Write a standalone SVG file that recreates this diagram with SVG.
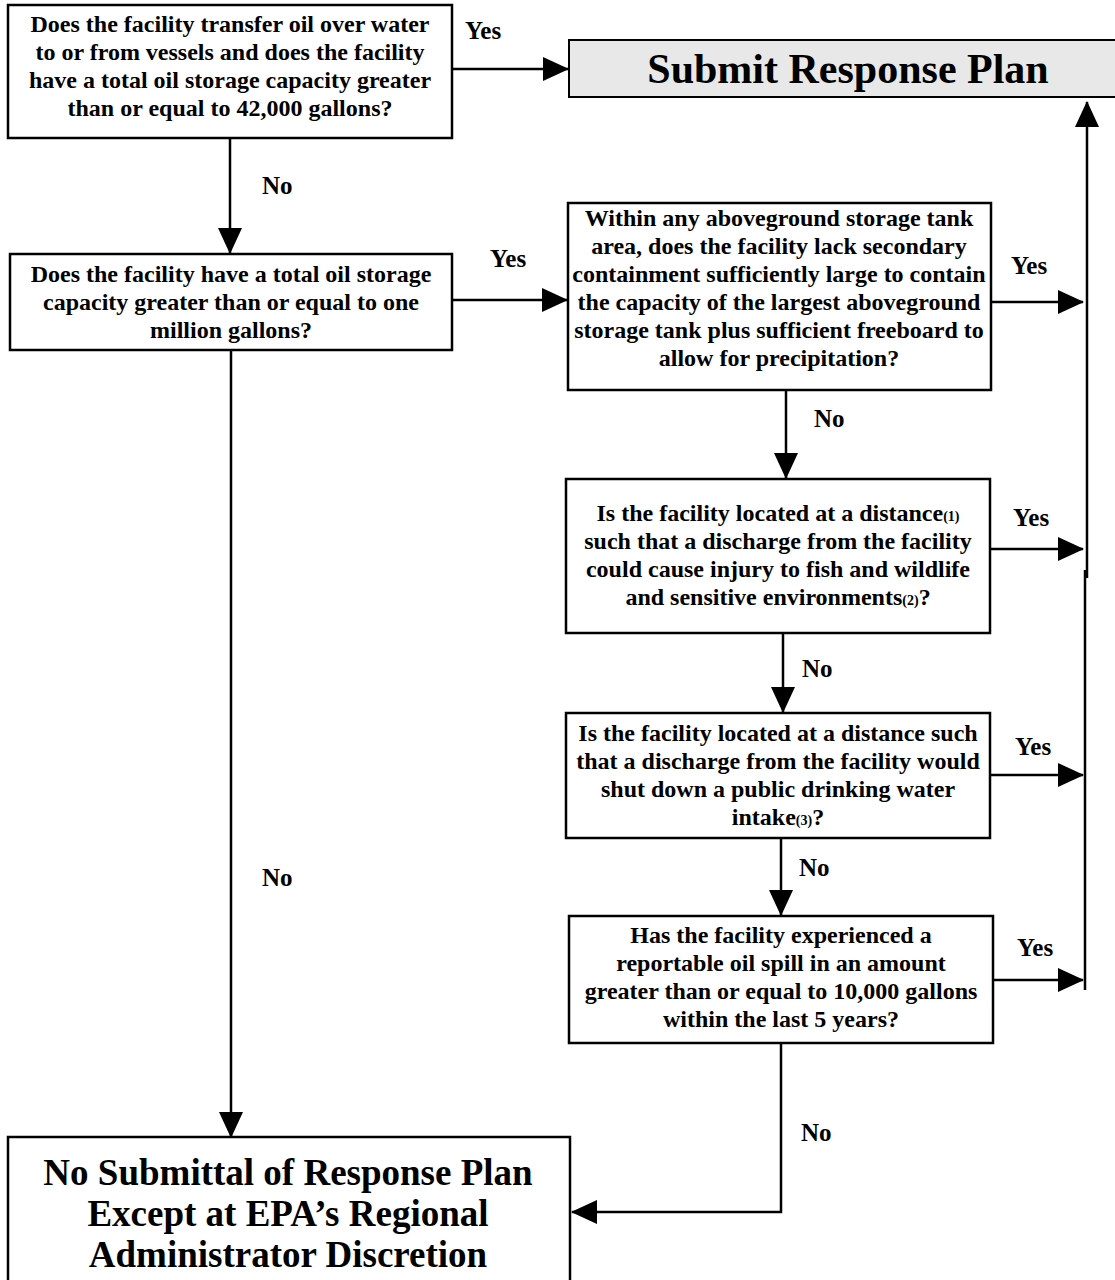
<svg xmlns="http://www.w3.org/2000/svg" width="1115" height="1280" viewBox="0 0 1115 1280">
<style>
.box{fill:#fff;stroke:#000;stroke-width:2.5}
.t{font-family:"Liberation Serif","Times New Roman",serif;font-weight:bold;font-size:24px;text-anchor:middle;fill:#000}
.lbl{font-family:"Liberation Serif","Times New Roman",serif;font-weight:bold;font-size:25px;fill:#000}
.big{font-family:"Liberation Serif","Times New Roman",serif;font-weight:bold;font-size:37px;text-anchor:middle;fill:#000}
.sm{font-size:14px}
.c{stroke:#000;stroke-width:2.5;fill:none}
</style>
<defs>
<marker id="ah" markerUnits="userSpaceOnUse" markerWidth="26" markerHeight="26" viewBox="0 0 26 26" refX="25" refY="13" orient="auto">
<path d="M0,1 L26,13 L0,25 Z" fill="#000"/>
</marker>
</defs>
<rect width="1115" height="1280" fill="#fff"/>

<g id="connectors">
<line class="c" x1="452" y1="69" x2="568" y2="69" marker-end="url(#ah)"/>
<line class="c" x1="230" y1="138" x2="230" y2="253" marker-end="url(#ah)"/>
<line class="c" x1="452" y1="300" x2="567" y2="300" marker-end="url(#ah)"/>
<line class="c" x1="231" y1="350" x2="231" y2="1137" marker-end="url(#ah)"/>
<line class="c" x1="991" y1="302" x2="1083" y2="302" marker-end="url(#ah)"/>
<line class="c" x1="786" y1="390" x2="786" y2="478" marker-end="url(#ah)"/>
<line class="c" x1="990" y1="549" x2="1083" y2="549" marker-end="url(#ah)"/>
<line class="c" x1="783" y1="633" x2="783" y2="712" marker-end="url(#ah)"/>
<line class="c" x1="990" y1="775" x2="1083" y2="775" marker-end="url(#ah)"/>
<line class="c" x1="781" y1="838" x2="781" y2="915" marker-end="url(#ah)"/>
<line class="c" x1="993" y1="980" x2="1083" y2="980" marker-end="url(#ah)"/>
<line class="c" x1="1085" y1="990" x2="1085" y2="570"/>
<line class="c" x1="1087" y1="578" x2="1087" y2="102" marker-end="url(#ah)"/>
<polyline class="c" points="781,1043 781,1212 572,1212" marker-end="url(#ah)"/>
<text class="lbl" x="465" y="39">Yes</text>
<text class="lbl" x="262" y="194">No</text>
<text class="lbl" x="490" y="267">Yes</text>
<text class="lbl" x="1011" y="274">Yes</text>
<text class="lbl" x="814" y="427">No</text>
<text class="lbl" x="1013" y="526">Yes</text>
<text class="lbl" x="802" y="677">No</text>
<text class="lbl" x="1015" y="755">Yes</text>
<text class="lbl" x="799" y="876">No</text>
<text class="lbl" x="1017" y="956">Yes</text>
<text class="lbl" x="262" y="886">No</text>
<text class="lbl" x="801" y="1141">No</text>
</g>

<g id="q1">
<rect class="box" x="8" y="5" width="444" height="133"/>
<text class="t" x="230" y="32">Does the facility transfer oil over water</text>
<text class="t" x="230" y="60">to or from vessels and does the facility</text>
<text class="t" x="230" y="88">have a total oil storage capacity greater</text>
<text class="t" x="230" y="116">than or equal to 42,000 gallons?</text>
</g>

<g id="submit">
<rect x="569" y="40" width="550" height="57" fill="#e8e8e8" stroke="#000" stroke-width="2"/>
<text class="big" x="848" y="83" style="font-size:42px">Submit Response Plan</text>
</g>

<g id="q2">
<rect class="box" x="10" y="254" width="442" height="96"/>
<text class="t" x="231" y="282">Does the facility have a total oil storage</text>
<text class="t" x="231" y="310">capacity greater than or equal to one</text>
<text class="t" x="231" y="338">million gallons?</text>
</g>

<g id="q3">
<rect class="box" x="568" y="203" width="423" height="187"/>
<text class="t" x="779" y="226">Within any aboveground storage tank</text>
<text class="t" x="779" y="254">area, does the facility lack secondary</text>
<text class="t" x="779" y="282">containment sufficiently large to contain</text>
<text class="t" x="779" y="310">the capacity of the largest aboveground</text>
<text class="t" x="779" y="338">storage tank plus sufficient freeboard to</text>
<text class="t" x="779" y="366">allow for precipitation?</text>
</g>

<g id="q4">
<rect class="box" x="566" y="479" width="424" height="154"/>
<text class="t" x="778" y="521">Is the facility located at a distance<tspan class="sm">(1)</tspan></text>
<text class="t" x="778" y="549">such that a discharge from the facility</text>
<text class="t" x="778" y="577">could cause injury to fish and wildlife</text>
<text class="t" x="778" y="605">and sensitive environments<tspan class="sm">(2)</tspan>?</text>
</g>

<g id="q5">
<rect class="box" x="566" y="713" width="424" height="125"/>
<text class="t" x="778" y="741">Is the facility located at a distance such</text>
<text class="t" x="778" y="769">that a discharge from the facility would</text>
<text class="t" x="778" y="797">shut down a public drinking water</text>
<text class="t" x="778" y="825">intake<tspan class="sm">(3)</tspan>?</text>
</g>

<g id="q6">
<rect class="box" x="569" y="916" width="424" height="127"/>
<text class="t" x="781" y="943">Has the facility experienced a</text>
<text class="t" x="781" y="971">reportable oil spill in an amount</text>
<text class="t" x="781" y="999">greater than or equal to 10,000 gallons</text>
<text class="t" x="781" y="1027">within the last 5 years?</text>
</g>

<g id="nosubmit">
<rect class="box" x="8" y="1137" width="562" height="150"/>
<text class="big" x="288" y="1185">No Submittal of Response Plan</text>
<text class="big" x="288" y="1226">Except at EPA’s Regional</text>
<text class="big" x="288" y="1267">Administrator Discretion</text>
</g>
</svg>
